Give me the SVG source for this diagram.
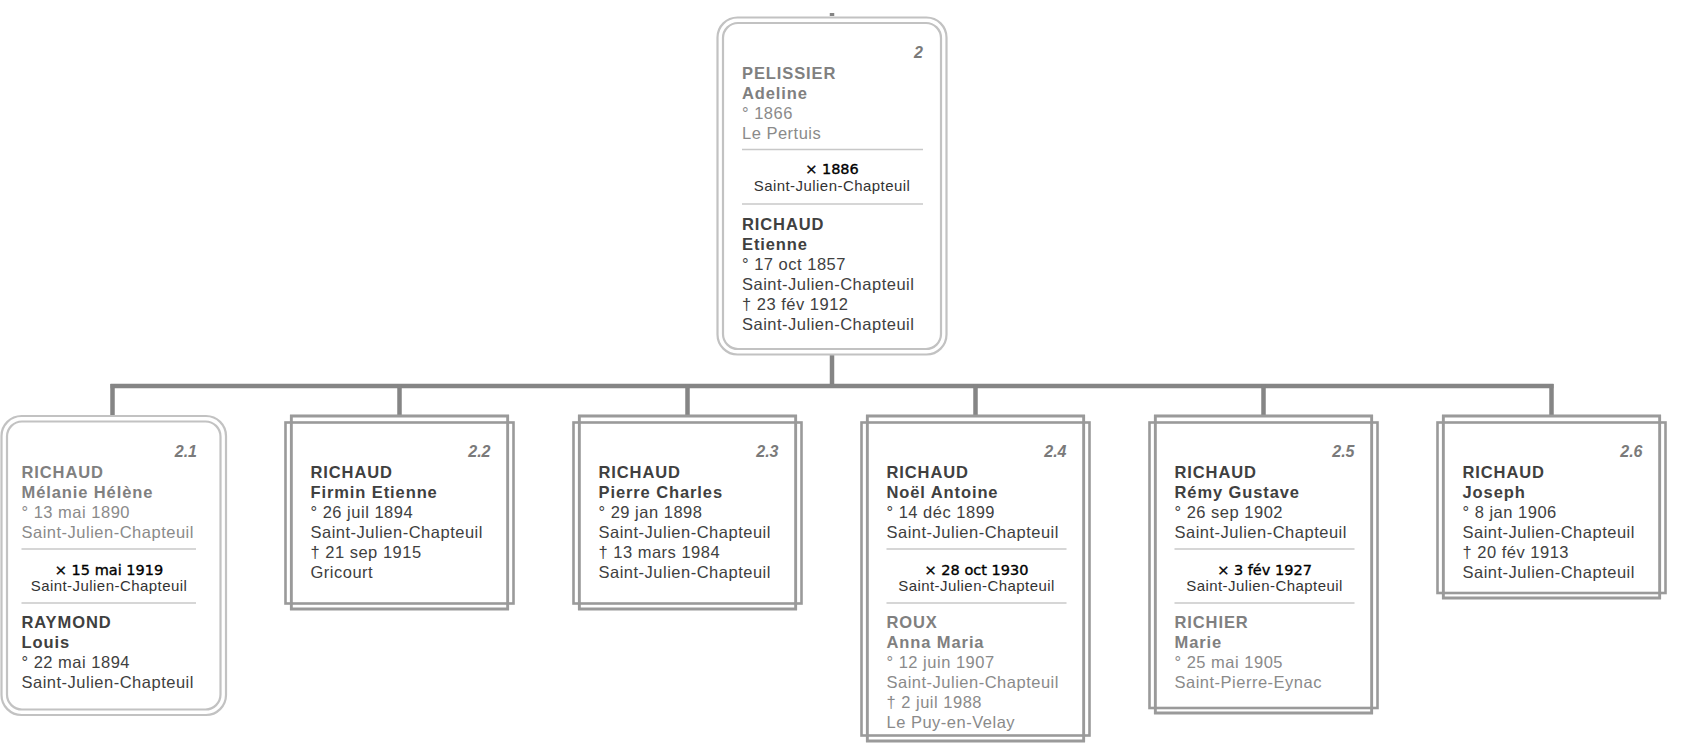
<svg xmlns="http://www.w3.org/2000/svg" width="1685" height="752" viewBox="0 0 1685 752">
<style>
text{font-family:"Liberation Sans",Arial,sans-serif}
.n{font-size:16.5px;font-weight:bold;letter-spacing:0.9px;fill:#404040}
.nf{font-size:16.5px;font-weight:bold;letter-spacing:0.9px;fill:#808080}
.d{font-size:16.5px;letter-spacing:0.5px;fill:#404040}
.df{font-size:16.5px;letter-spacing:0.5px;fill:#8a8a8a}
.num{font-size:16px;font-weight:bold;font-style:italic;fill:#7a7a7a;text-anchor:end}
.mx{font-family:"DejaVu Sans",Verdana,sans-serif;font-size:14.5px;fill:#000;stroke:#000;stroke-width:0.35;text-anchor:middle}
.mp{font-size:15px;letter-spacing:0.45px;fill:#333;text-anchor:middle}
.sep{stroke:#c8c8c8;stroke-width:1.5}
.rr{fill:none;stroke:#c2c2c2;stroke-width:2.2}
.sq{fill:none;stroke:#9a9a9a;stroke-width:2.6}
.bg{fill:#fff}
.con{stroke:#858585;stroke-width:4.5;fill:none}
</style>
<rect width="1685" height="752" fill="#fff"/>
<g id="connectors">
<line class="con" x1="832" y1="13" x2="832" y2="16"/>
<line class="con" x1="832" y1="353" x2="832" y2="386"/>
<line class="con" x1="110.5" y1="386" x2="1553.5" y2="386"/>
<line class="con" x1="112.5" y1="384" x2="112.5" y2="416"/>
<line class="con" x1="399.5" y1="384" x2="399.5" y2="416"/>
<line class="con" x1="687.5" y1="384" x2="687.5" y2="416"/>
<line class="con" x1="975.5" y1="384" x2="975.5" y2="416"/>
<line class="con" x1="1263.5" y1="384" x2="1263.5" y2="416"/>
<line class="con" x1="1551.5" y1="384" x2="1551.5" y2="416"/>
</g>
<g id="node-2">
<rect class="rr bg" x="717.5" y="17.5" width="229" height="337" rx="20"/>
<rect class="rr" x="723" y="23" width="218" height="326" rx="15"/>
<text class="num" x="923" y="58">2</text>
<text class="nf" x="742" y="78.5">PELISSIER</text>
<text class="nf" x="742" y="98.5">Adeline</text>
<text class="df" x="742" y="118.5">° 1866</text>
<text class="df" x="742" y="138.5">Le Pertuis</text>
<line class="sep" x1="742" y1="149.5" x2="923" y2="149.5"/>
<text class="mx" x="832" y="174">× 1886</text>
<text class="mp" x="832" y="191">Saint-Julien-Chapteuil</text>
<line class="sep" x1="742" y1="204" x2="923" y2="204"/>
<text class="n" x="742" y="229.5">RICHAUD</text>
<text class="n" x="742" y="249.5">Etienne</text>
<text class="d" x="742" y="269.5">° 17 oct 1857</text>
<text class="d" x="742" y="289.5">Saint-Julien-Chapteuil</text>
<text class="d" x="742" y="309.5">† 23 fév 1912</text>
<text class="d" x="742" y="329.5">Saint-Julien-Chapteuil</text>
</g>
<g id="node-2-1">
<rect class="rr bg" x="1.5" y="416" width="224.5" height="299" rx="20"/>
<rect class="rr" x="7" y="421.5" width="213.5" height="288" rx="15"/>
<text class="num" x="197" y="457">2.1</text>
<text class="nf" x="21.5" y="478">RICHAUD</text>
<text class="nf" x="21.5" y="498">Mélanie Hélène</text>
<text class="df" x="21.5" y="518">° 13 mai 1890</text>
<text class="df" x="21.5" y="538">Saint-Julien-Chapteuil</text>
<line class="sep" x1="21.5" y1="549" x2="196" y2="549"/>
<text class="mx" x="109" y="574.5">× 15 mai 1919</text>
<text class="mp" x="109" y="591">Saint-Julien-Chapteuil</text>
<line class="sep" x1="21.5" y1="603" x2="196" y2="603"/>
<text class="n" x="21.5" y="628">RAYMOND</text>
<text class="n" x="21.5" y="648">Louis</text>
<text class="d" x="21.5" y="668">° 22 mai 1894</text>
<text class="d" x="21.5" y="688">Saint-Julien-Chapteuil</text>
</g>
<g id="node-2-2" transform="translate(285.5,0)">
<rect class="sq bg" x="5.75" y="416" width="216.5" height="193"/>
<rect class="sq" x="0" y="422.5" width="228" height="181"/>
<rect class="sq" x="5.75" y="416" width="216.5" height="193"/>
<text class="num" x="205" y="457">2.2</text>
<text class="n" x="25" y="477.5">RICHAUD</text>
<text class="n" x="25" y="497.5">Firmin Etienne</text>
<text class="d" x="25" y="518">° 26 juil 1894</text>
<text class="d" x="25" y="538">Saint-Julien-Chapteuil</text>
<text class="d" x="25" y="558">† 21 sep 1915</text>
<text class="d" x="25" y="578">Gricourt</text>
</g>
<g id="node-2-3" transform="translate(573.5,0)">
<rect class="sq bg" x="5.75" y="416" width="216.5" height="193"/>
<rect class="sq" x="0" y="422.5" width="228" height="181"/>
<rect class="sq" x="5.75" y="416" width="216.5" height="193"/>
<text class="num" x="205" y="457">2.3</text>
<text class="n" x="25" y="477.5">RICHAUD</text>
<text class="n" x="25" y="497.5">Pierre Charles</text>
<text class="d" x="25" y="518">° 29 jan 1898</text>
<text class="d" x="25" y="538">Saint-Julien-Chapteuil</text>
<text class="d" x="25" y="558">† 13 mars 1984</text>
<text class="d" x="25" y="578">Saint-Julien-Chapteuil</text>
</g>
<g id="node-2-4" transform="translate(861.5,0)">
<rect class="sq bg" x="5.75" y="416" width="216.5" height="325"/>
<rect class="sq" x="0" y="422.5" width="228" height="313"/>
<rect class="sq" x="5.75" y="416" width="216.5" height="325"/>
<text class="num" x="205" y="457">2.4</text>
<text class="n" x="25" y="477.5">RICHAUD</text>
<text class="n" x="25" y="497.5">Noël Antoine</text>
<text class="d" x="25" y="518">° 14 déc 1899</text>
<text class="d" x="25" y="538">Saint-Julien-Chapteuil</text>
<line class="sep" x1="25" y1="549" x2="205" y2="549"/>
<text class="mx" x="115" y="574.5">× 28 oct 1930</text>
<text class="mp" x="115" y="591">Saint-Julien-Chapteuil</text>
<line class="sep" x1="25" y1="603" x2="205" y2="603"/>
<text class="nf" x="25" y="628">ROUX</text>
<text class="nf" x="25" y="648">Anna Maria</text>
<text class="df" x="25" y="668">° 12 juin 1907</text>
<text class="df" x="25" y="688">Saint-Julien-Chapteuil</text>
<text class="df" x="25" y="708">† 2 juil 1988</text>
<text class="df" x="25" y="728">Le Puy-en-Velay</text>
</g>
<g id="node-2-5" transform="translate(1149.5,0)">
<rect class="sq bg" x="5.75" y="416" width="216.5" height="297"/>
<rect class="sq" x="0" y="422.5" width="228" height="285.5"/>
<rect class="sq" x="5.75" y="416" width="216.5" height="297"/>
<text class="num" x="205" y="457">2.5</text>
<text class="n" x="25" y="477.5">RICHAUD</text>
<text class="n" x="25" y="497.5">Rémy Gustave</text>
<text class="d" x="25" y="518">° 26 sep 1902</text>
<text class="d" x="25" y="538">Saint-Julien-Chapteuil</text>
<line class="sep" x1="25" y1="549" x2="205" y2="549"/>
<text class="mx" x="115" y="574.5">× 3 fév 1927</text>
<text class="mp" x="115" y="591">Saint-Julien-Chapteuil</text>
<line class="sep" x1="25" y1="603" x2="205" y2="603"/>
<text class="nf" x="25" y="628">RICHIER</text>
<text class="nf" x="25" y="648">Marie</text>
<text class="df" x="25" y="668">° 25 mai 1905</text>
<text class="df" x="25" y="688">Saint-Pierre-Eynac</text>
</g>
<g id="node-2-6" transform="translate(1437.5,0)">
<rect class="sq bg" x="5.75" y="416" width="216.5" height="182"/>
<rect class="sq" x="0" y="422.5" width="228" height="170.5"/>
<rect class="sq" x="5.75" y="416" width="216.5" height="182"/>
<text class="num" x="205" y="457">2.6</text>
<text class="n" x="25" y="477.5">RICHAUD</text>
<text class="n" x="25" y="497.5">Joseph</text>
<text class="d" x="25" y="518">° 8 jan 1906</text>
<text class="d" x="25" y="538">Saint-Julien-Chapteuil</text>
<text class="d" x="25" y="558">† 20 fév 1913</text>
<text class="d" x="25" y="578">Saint-Julien-Chapteuil</text>
</g>
</svg>
